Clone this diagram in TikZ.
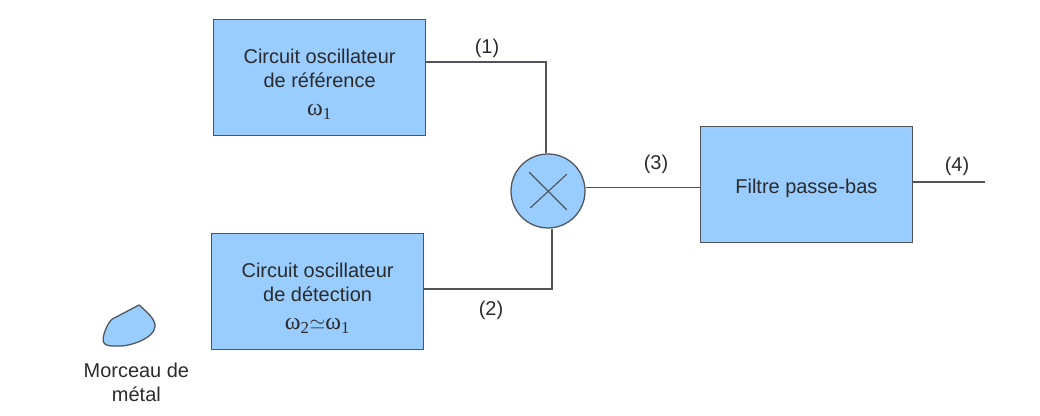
\documentclass[tikz,border=0pt]{standalone}
\usepackage{fontspec}
\setmainfont{Liberation Sans}
\newfontfamily\omegafont{Liberation Serif}
\usepackage{xcolor}
\usepackage{amsmath, amssymb}
\usepackage{tikz}
\usetikzlibrary{arrows.meta, positioning, shapes.geometric, calc}

\definecolor{boxblue}{HTML}{99CCFF}
\definecolor{edgegrey}{HTML}{4F5559}
\definecolor{textgrey}{HTML}{2B2B2B}
\newcommand{\om}[1]{{\omegafont\fontsize{17}{17}\selectfont ω\textsubscript{#1}}}

\tikzset{
  blockbox/.style={draw=edgegrey, line width=0.9pt, fill=boxblue, text=textgrey,
    minimum width=5.3cm, minimum height=2.9cm, align=center, inner sep=0pt},
  wire/.style={draw=edgegrey, line width=0.9pt},
  tag/.style={text=textgrey}
}

\begin{document}
\begin{tikzpicture}[font=\fontsize{14.2}{17}\selectfont]
\useasboundingbox (0,0) rectangle (26,10.4);

\node[blockbox] (ref) at (7.99,8.46) {\rule{0pt}{20pt}Circuit oscillateur\\de référence\\[3pt]\om{1}};
\node[blockbox] (det) at (7.94,3.11) {\rule{0pt}{20pt}Circuit oscillateur\\de détection\\[3pt]\om{2}$\simeq$\om{1}};
\node[blockbox] (filtre) at (20.16,5.78) {\rule{0pt}{16pt}Filtre passe-bas};

\node[circle, draw=edgegrey, line width=0.9pt, fill=boxblue, minimum size=1.85cm, inner sep=0pt] (mix) at (13.7,5.625) {};
\draw[wire, line width=0.8pt] ($(mix)+(-0.47,0.47)$) -- ($(mix)+(0.47,-0.47)$);
\draw[wire, line width=0.8pt] ($(mix)+(-0.44,-0.42)$) -- ($(mix)+(0.47,0.42)$);

% corners of the wires
\coordinate (c1) at (13.65,8.85);
\coordinate (c2) at (13.8,3.175);
\coordinate (c3) at (14.65,5.71);
\coordinate (c4) at (24.625,5.85);

\draw[wire] (ref.east |- c1) -- (c1) -- (c1 |- mix.north);
\draw[wire] (det.east |- c2) -- (c2) -- (c2 |- mix.south);
\draw[wire] (c3) -- (filtre.west |- c3);
\draw[wire] (filtre.east |- c4) -- (c4);

\node[tag] (t1) at (12.175,9.2) {(1)};
\node[tag] (t2) at (12.275,2.63) {(2)};
\node[tag] (t3) at (16.4,6.28) {(3)};
\node[tag] (t4) at (23.925,6.25) {(4)};

% piece of metal
\draw[edgegrey, line width=0.9pt, fill=boxblue] (3.475,2.775)
  .. controls (3.65,2.62) and (3.9,2.42) .. (3.875,2.225)
  .. controls (3.85,1.95) and (3.25,1.72) .. (2.9,1.75)
  .. controls (2.65,1.74) and (2.55,1.8) .. (2.58,1.95)
  .. controls (2.6,2.1) and (2.7,2.33) .. (2.8,2.42) -- cycle;
\node[tag, align=center] (metal) at (3.41,0.83) {Morceau de\\métal};
\end{tikzpicture}
\end{document}
